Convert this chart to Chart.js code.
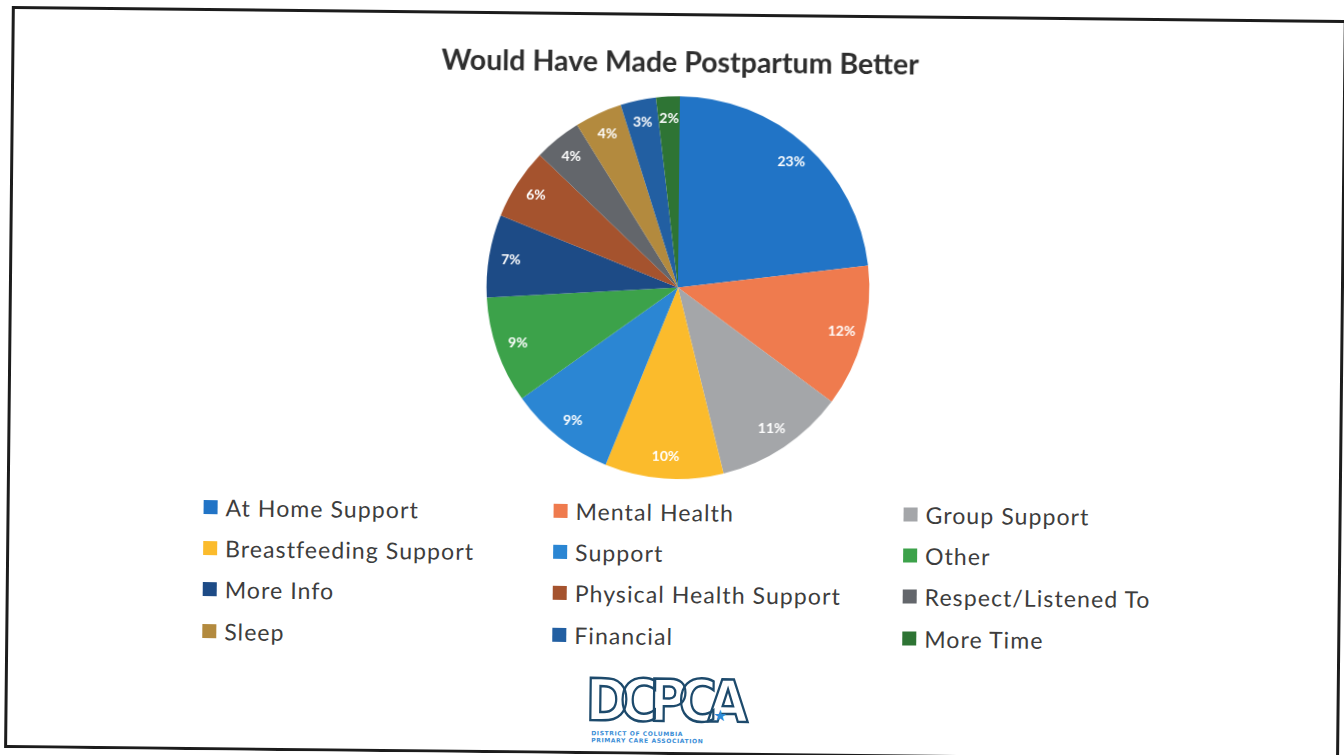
<!DOCTYPE html>
<html>
<head>
<meta charset="utf-8">
<script src="https://cdn.jsdelivr.net/npm/chart.js@4.4.1/dist/chart.umd.min.js"></script>
<style>
  html, body { margin: 0; padding: 0; background: #fff; }
  #card {
    position: relative; width: 1344px; height: 755px; overflow: hidden;
    transform: rotate(0.6deg); transform-origin: 672px 377px;
    font-family: Lato, "Open Sans", sans-serif;
  }
  #frame {
    position: absolute; left: 8px; top: 13px; width: 1329px; height: 736px;
    border: 3px solid #1c1c1c;
  }
  #pieBox { position: absolute; left: 0; top: 0; width: 1344px; height: 490px; }
  #legend {
    position: absolute; left: 205px; top: 491px;
    display: grid; grid-template-columns: 350px 350px 350px;
  }
  #legend .item {
    display: flex; align-items: center; height: 41.3px;
    font-size: 23px; letter-spacing: 1.1px; color: #3d3d3d; white-space: nowrap;
  }
  #legend .box { width: 14px; height: 14px; margin-right: 8px; flex: none; }
  #logo { position: absolute; left: 589px; top: 673px; width: 165px; }
  #logo .mark {
    font-family: "DejaVu Sans", sans-serif; font-size: 58px; font-weight: bold;
    color: #fff; -webkit-text-stroke: 2.5px #1d4a6c; letter-spacing: -10px;
    line-height: 56px; transform: scaleX(0.9); transform-origin: left;
  }
  #logo .star { position: absolute; left: 128px; top: 32px; color: #2d8ad6; font-size: 16px; }
  #logo .sub {
    font-family: "DejaVu Sans", sans-serif; font-size: 6px; font-weight: bold;
    color: #3a8dd6; line-height: 7px; letter-spacing: 0.6px; margin-left: 6px; margin-top: 1px;
  }
</style>
</head>
<body>
<div id="card">
  <div id="frame"></div>
  <div id="pieBox"><canvas id="postpartum"></canvas></div>
  <div id="legend"></div>
  <div id="logo">
    <div class="mark">DCPCA</div>
    <div class="star">&#9733;</div>
    <div class="sub">DISTRICT OF COLUMBIA<br>PRIMARY CARE ASSOCIATION</div>
  </div>
</div>
<script>
// responses, in percent
var categories = [
  'At Home Support', 'Mental Health', 'Group Support',
  'Breastfeeding Support', 'Support', 'Other',
  'More Info', 'Physical Health Support', 'Respect/Listened To',
  'Sleep', 'Financial', 'More Time'
];
var shares = [23, 12, 11, 10, 9, 9, 7, 6, 4, 4, 3, 2];
var colors = [
  '#2174c6', '#ef7b4e', '#a4a6a9',
  '#fbbb2c', '#2b86d3', '#3ca24a',
  '#1d4b86', '#a5532e', '#63666b',
  '#b38a3e', '#225fa2', '#2e7434'
];

// white percent labels near the rim of each slice
var sliceLabels = {
  id: 'sliceLabels',
  afterDatasetsDraw: function (chart) {
    var ctx = chart.ctx;
    var meta = chart.getDatasetMeta(0);
    ctx.save();
    ctx.fillStyle = '#ffffff';
    ctx.font = 'bold 14px Lato';
    ctx.textAlign = 'center';
    ctx.textBaseline = 'middle';
    meta.data.forEach(function (arc, i) {
      var p = arc.getProps(['x', 'y', 'startAngle', 'endAngle', 'outerRadius'], true);
      var mid = (p.startAngle + p.endAngle) / 2;
      var r = p.outerRadius * 0.885;
      ctx.fillText(chart.data.datasets[0].data[i] + '%', p.x + Math.cos(mid) * r, p.y + Math.sin(mid) * r);
    });
    ctx.restore();
  }
};

var ctx_post = document.getElementById('postpartum');
var postChart = new Chart(ctx_post, {
  type: 'pie',
  data: {
    labels: categories,
    datasets: [{
      data: shares,
      backgroundColor: colors,
      borderWidth: 0,
    }],
  },
  options: {
    responsive: true,
    maintainAspectRatio: false,
    animation: false,
    layout: { padding: { top: 46, left: 10, bottom: 11 } },
    plugins: {
      legend: { display: false },
      tooltip: { enabled: false },
      title: {
        display: true,
        text: 'Would Have Made Postpartum Better',
        color: '#2e2e2e',
        font: { family: 'Lato', size: 28.5, weight: 'bold' },
        padding: { top: 0, bottom: 16 },
      },
    },
  },
  plugins: [sliceLabels]
});

// legend grid, three columns, filled row by row
var legendEl = document.getElementById('legend');
postChart.data.labels.forEach(function (name, i) {
  var item = document.createElement('div');
  item.className = 'item';
  var box = document.createElement('span');
  box.className = 'box';
  box.style.background = postChart.data.datasets[0].backgroundColor[i];
  item.appendChild(box);
  item.appendChild(document.createTextNode(name));
  legendEl.appendChild(item);
});
</script>
</body>
</html>
